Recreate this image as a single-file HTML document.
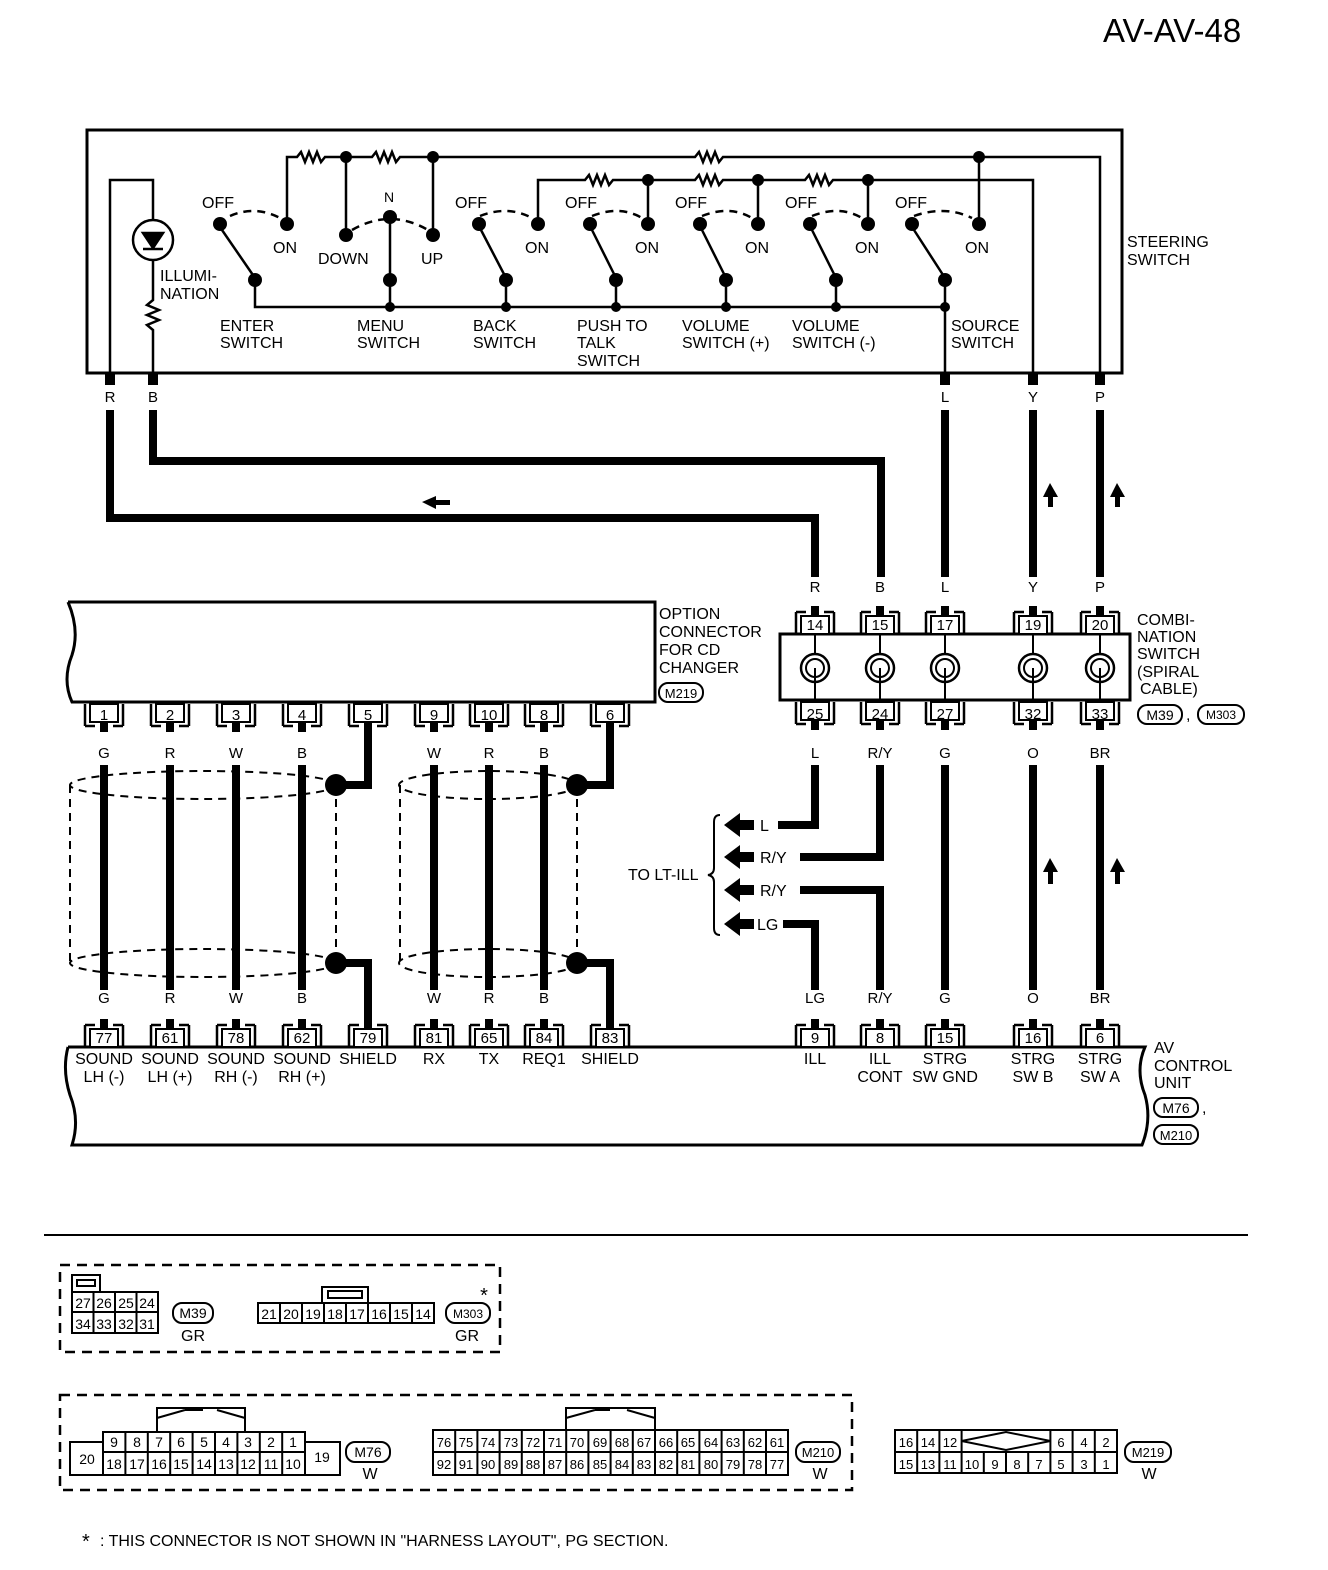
<!DOCTYPE html>
<html><head><meta charset="utf-8"><style>
html,body{margin:0;padding:0;background:#fff}
svg{display:block}
text{font-family:"Liberation Sans",sans-serif;fill:#000}
</style></head><body>
<svg width="1328" height="1570" viewBox="0 0 1328 1570" xmlns="http://www.w3.org/2000/svg">
<defs>
<g id="tt"><path d="M-19,2 V24 M19,2 V24 M-19,2 H-9 M9,2 H19" stroke="#000" stroke-width="2.5" fill="none"/><rect x="-14" y="6" width="28" height="18" fill="#fff" stroke="#000" stroke-width="2"/><rect x="-4" y="-4" width="8" height="10" fill="#000"/></g>
<g id="tb"><path d="M-19,0 V22 M19,0 V22 M-19,22 H-9 M9,22 H19" stroke="#000" stroke-width="2.5" fill="none"/><rect x="-14" y="0" width="28" height="18" fill="#fff" stroke="#000" stroke-width="2"/><rect x="-4" y="18" width="8" height="10" fill="#000"/></g>
<g id="sp"><circle r="14" fill="none" stroke="#000" stroke-width="2.5"/><circle r="9" fill="none" stroke="#000" stroke-width="2"/><path d="M0,-34 V-14 M0,0 V34" stroke="#000" stroke-width="2" fill="none"/></g>
</defs>
<g font-size="16">
<text x="1103" y="42" font-size="33">AV-AV-48</text>

<!-- steering switch box -->
<rect x="87" y="130" width="1035" height="243" fill="none" stroke="#000" stroke-width="3"/>
<g stroke="#000" stroke-width="2.5" fill="none">
<path d="M110,373 V180 H153 V220 M153,260 V300 l-6,5 12,5 -12,5 12,5 -12,5 6,5 V373"/>
<path d="M287,224 V157 H297 l4,-5 4,10 4,-10 4,10 4,-10 4,10 4,-5 H372 l4,-5 4,10 4,-10 4,10 4,-10 4,10 4,-5 H695 l4,-5 4,10 4,-10 4,10 4,-10 4,10 4,-5 H1100 V373"/>
<path d="M346,157 V235 M433,157 V235 M979,157 V224"/>
<path d="M538,224 V180 H585 l4,-5 4,10 4,-10 4,10 4,-10 4,10 4,-5 H695 l4,-5 4,10 4,-10 4,10 4,-10 4,10 4,-5 H805 l4,-5 4,10 4,-10 4,10 4,-10 4,10 4,-5 H1033 V373"/>
<path d="M648,180 V224 M758,180 V224 M868,180 V224"/>
<path d="M255,280 V307 H945 V373 M390,280 V307 M506,280 V307 M616,280 V307 M726,280 V307 M836,280 V307 M945,280 V307"/>
<path d="M255,278 L222,230 M390,278 V222 M506,278 L481,230 M616,278 L592,230 M726,278 L702,230 M836,278 L812,230 M945,278 L914,230"/>
<path d="M230,216 Q255,205 280,218 M480,216 Q508,205 532,218 M592,216 Q620,205 642,218 M702,216 Q730,205 752,218 M812,216 Q840,205 862,218 M914,216 Q945,205 972,218 M352,230 Q390,208 428,230" stroke-dasharray="8,6"/>
</g>
<circle cx="153" cy="240" r="20" fill="none" stroke="#000" stroke-width="2.5"/>
<path d="M143,233 H163 L153,248 Z M143,249 H163" fill="#000" stroke="#000" stroke-width="2.5"/>
<g fill="#000">
<circle cx="346" cy="157" r="6"/><circle cx="433" cy="157" r="6"/><circle cx="979" cy="157" r="6"/>
<circle cx="648" cy="180" r="6"/><circle cx="758" cy="180" r="6"/><circle cx="868" cy="180" r="6"/>
<circle cx="220" cy="224" r="7"/><circle cx="287" cy="224" r="7"/><circle cx="346" cy="235" r="7"/><circle cx="390" cy="217" r="7"/><circle cx="433" cy="235" r="7"/>
<circle cx="479" cy="224" r="7"/><circle cx="538" cy="224" r="7"/><circle cx="590" cy="224" r="7"/><circle cx="648" cy="224" r="7"/>
<circle cx="700" cy="224" r="7"/><circle cx="758" cy="224" r="7"/><circle cx="810" cy="224" r="7"/><circle cx="868" cy="224" r="7"/>
<circle cx="912" cy="224" r="7"/><circle cx="979" cy="224" r="7"/>
<circle cx="255" cy="280" r="7"/><circle cx="390" cy="280" r="7"/><circle cx="506" cy="280" r="7"/><circle cx="616" cy="280" r="7"/><circle cx="726" cy="280" r="7"/><circle cx="836" cy="280" r="7"/><circle cx="945" cy="280" r="7"/>
<circle cx="390" cy="307" r="5"/><circle cx="506" cy="307" r="5"/><circle cx="616" cy="307" r="5"/><circle cx="726" cy="307" r="5"/><circle cx="836" cy="307" r="5"/><circle cx="945" cy="307" r="5"/>
<rect x="105" y="373" width="10" height="12"/><rect x="148" y="373" width="10" height="12"/><rect x="940" y="373" width="10" height="12"/><rect x="1028" y="373" width="10" height="12"/><rect x="1095" y="373" width="10" height="12"/>
</g>
<text x="202" y="208">OFF</text><text x="273" y="253">ON</text><text x="318" y="264">DOWN</text><text x="384" y="202" font-size="14">N</text><text x="421" y="264">UP</text>
<text x="455" y="208">OFF</text><text x="525" y="253">ON</text><text x="565" y="208">OFF</text><text x="635" y="253">ON</text>
<text x="675" y="208">OFF</text><text x="745" y="253">ON</text><text x="785" y="208">OFF</text><text x="855" y="253">ON</text>
<text x="895" y="208">OFF</text><text x="965" y="253">ON</text>
<text x="160" y="281">ILLUMI-</text><text x="160" y="299">NATION</text>
<text x="220" y="331">ENTER</text><text x="220" y="348">SWITCH</text>
<text x="357" y="331">MENU</text><text x="357" y="348">SWITCH</text>
<text x="473" y="331">BACK</text><text x="473" y="348">SWITCH</text>
<text x="577" y="331">PUSH TO</text><text x="577" y="348">TALK</text><text x="577" y="366">SWITCH</text>
<text x="682" y="331">VOLUME</text><text x="682" y="348">SWITCH (+)</text>
<text x="792" y="331">VOLUME</text><text x="792" y="348">SWITCH (-)</text>
<text x="951" y="331">SOURCE</text><text x="951" y="348">SWITCH</text>
<text x="1127" y="247">STEERING</text><text x="1127" y="265">SWITCH</text>
<g font-size="15" text-anchor="middle"><text x="110" y="402">R</text><text x="153" y="402">B</text><text x="945" y="402">L</text><text x="1033" y="402">Y</text><text x="1100" y="402">P</text>
<text x="815" y="592">R</text><text x="880" y="592">B</text><text x="945" y="592">L</text><text x="1033" y="592">Y</text><text x="1100" y="592">P</text></g>

<!-- thick harness -->
<g stroke="#000" stroke-width="8" fill="none">
<path d="M110,410 V518 H815 V577"/><path d="M153,410 V461 H881 V577"/>
<path d="M945,410 V577 M1033,410 V577 M1100,410 V577"/>
</g>
<path d="M422,502 L436,496 V500 H450 V505 H436 V509 Z" fill="#000"/>
<path d="M1050,483 L1043,497 H1048 V507 H1053 V497 H1058 Z M1117,483 L1110,497 H1115 V507 H1120 V497 H1125 Z" fill="#000"/>

<!-- combination switch -->
<rect x="780" y="634" width="350" height="66" fill="#fff" stroke="#000" stroke-width="3"/>
<use href="#tt" x="815" y="610"/><use href="#tt" x="880" y="610"/><use href="#tt" x="945" y="610"/><use href="#tt" x="1033" y="610"/><use href="#tt" x="1100" y="610"/>
<use href="#tb" x="815" y="702"/><use href="#tb" x="880" y="702"/><use href="#tb" x="945" y="702"/><use href="#tb" x="1033" y="702"/><use href="#tb" x="1100" y="702"/>
<use href="#sp" x="815" y="668"/><use href="#sp" x="880" y="668"/><use href="#sp" x="945" y="668"/><use href="#sp" x="1033" y="668"/><use href="#sp" x="1100" y="668"/>
<g font-size="15" text-anchor="middle"><text x="815" y="630">14</text><text x="880" y="630">15</text><text x="945" y="630">17</text><text x="1033" y="630">19</text><text x="1100" y="630">20</text>
<text x="815" y="719">25</text><text x="880" y="719">24</text><text x="945" y="719">27</text><text x="1033" y="719">32</text><text x="1100" y="719">33</text>
<text x="815" y="758">L</text><text x="880" y="758">R/Y</text><text x="945" y="758">G</text><text x="1033" y="758">O</text><text x="1100" y="758">BR</text></g>
<text x="1137" y="625">COMBI-</text><text x="1137" y="642">NATION</text><text x="1137" y="659">SWITCH</text><text x="1137" y="677">(SPIRAL</text><text x="1140" y="694">CABLE)</text>
<rect x="1138" y="705" width="44" height="19" rx="9" fill="none" stroke="#000" stroke-width="2"/><text x="1160" y="720" font-size="14" text-anchor="middle">M39</text><text x="1186" y="720">,</text>
<rect x="1198" y="705" width="46" height="19" rx="9" fill="none" stroke="#000" stroke-width="2"/><text x="1221" y="719" font-size="12" text-anchor="middle">M303</text>

<!-- option connector -->
<path d="M68,602 H655 V702 H72 Q62,680 72,655 Q80,630 68,602" fill="#fff" stroke="#000" stroke-width="3"/>
<text x="659" y="619">OPTION</text><text x="659" y="637">CONNECTOR</text><text x="659" y="655">FOR CD</text><text x="659" y="673">CHANGER</text>
<rect x="659" y="683" width="44" height="19" rx="9" fill="none" stroke="#000" stroke-width="2"/><text x="681" y="698" font-size="13" text-anchor="middle">M219</text>
<g>
<use href="#tb" x="104" y="704"/><use href="#tb" x="170" y="704"/><use href="#tb" x="236" y="704"/><use href="#tb" x="302" y="704"/><use href="#tb" x="368" y="704"/><use href="#tb" x="434" y="704"/><use href="#tb" x="489" y="704"/><use href="#tb" x="544" y="704"/><use href="#tb" x="610" y="704"/>
</g>
<g font-size="15" text-anchor="middle"><text x="104" y="720">1</text><text x="170" y="720">2</text><text x="236" y="720">3</text><text x="302" y="720">4</text><text x="368" y="720">5</text><text x="434" y="720">9</text><text x="489" y="720">10</text><text x="544" y="720">8</text><text x="610" y="720">6</text>
<text x="104" y="758">G</text><text x="170" y="758">R</text><text x="236" y="758">W</text><text x="302" y="758">B</text><text x="434" y="758">W</text><text x="489" y="758">R</text><text x="544" y="758">B</text>
<text x="104" y="1003">G</text><text x="170" y="1003">R</text><text x="236" y="1003">W</text><text x="302" y="1003">B</text><text x="434" y="1003">W</text><text x="489" y="1003">R</text><text x="544" y="1003">B</text>
<text x="815" y="1003">LG</text><text x="880" y="1003">R/Y</text><text x="945" y="1003">G</text><text x="1033" y="1003">O</text><text x="1100" y="1003">BR</text></g>

<!-- shield cylinders -->
<g stroke="#000" stroke-width="2" fill="none" stroke-dasharray="8,6">
<ellipse cx="203" cy="785" rx="133" ry="14"/><ellipse cx="203" cy="963" rx="133" ry="14"/>
<path d="M70,785 V963 M336,785 V963"/>
<ellipse cx="488" cy="785" rx="89" ry="14"/><ellipse cx="488" cy="963" rx="89" ry="14"/>
<path d="M400,785 V963 M577,785 V963"/>
</g>
<g stroke="#000" stroke-width="8" fill="none">
<path d="M104,765 V990 M170,765 V990 M236,765 V990 M302,765 V990 M434,765 V990 M489,765 V990 M544,765 V990"/>
<path d="M368,732 V785 H336 M610,732 V785 H577 M336,963 H368 V1020 M577,963 H610 V1020"/>
<path d="M815,765 V825 H778 M880,765 V857 H800 M800,890 H880 V990 M783,924 H815 V990"/>
<path d="M945,765 V990 M1033,765 V990 M1100,765 V990"/>
</g>
<g fill="#000"><circle cx="336" cy="785" r="11"/><circle cx="577" cy="785" r="11"/><circle cx="336" cy="963" r="11"/><circle cx="577" cy="963" r="11"/>
<path d="M724,825 L740,813 V837 Z M738,820 H754 V830 H738 Z M724,857 L740,845 V869 Z M738,852 H754 V862 H738 Z M724,890 L740,878 V902 Z M738,885 H754 V895 H738 Z M724,924 L740,912 V936 Z M738,919 H754 V929 H738 Z"/>
<path d="M1050,858 L1043,872 H1048 V884 H1053 V872 H1058 Z M1117,858 L1110,872 H1115 V884 H1120 V872 H1125 Z"/></g>
<text x="760" y="831">L</text><text x="760" y="863">R/Y</text><text x="760" y="896">R/Y</text><text x="757" y="930">LG</text>
<text x="628" y="880">TO LT-ILL</text>
<path d="M720,815 Q714,815 714,822 V868 Q714,874 708,875 Q714,876 714,882 V928 Q714,935 720,935" stroke="#000" stroke-width="2" fill="none"/>

<!-- AV control unit -->
<path d="M68,1047 H1145 Q1135,1070 1145,1095 Q1152,1120 1142,1145 H72 Q80,1120 70,1095 Q62,1070 68,1047" fill="#fff" stroke="#000" stroke-width="3"/>
<use href="#tt" x="104" y="1023"/><use href="#tt" x="170" y="1023"/><use href="#tt" x="236" y="1023"/><use href="#tt" x="302" y="1023"/><use href="#tt" x="368" y="1023"/><use href="#tt" x="434" y="1023"/><use href="#tt" x="489" y="1023"/><use href="#tt" x="544" y="1023"/><use href="#tt" x="610" y="1023"/>
<use href="#tt" x="815" y="1023"/><use href="#tt" x="880" y="1023"/><use href="#tt" x="945" y="1023"/><use href="#tt" x="1033" y="1023"/><use href="#tt" x="1100" y="1023"/>
<g font-size="15" text-anchor="middle"><text x="104" y="1043">77</text><text x="170" y="1043">61</text><text x="236" y="1043">78</text><text x="302" y="1043">62</text><text x="368" y="1043">79</text><text x="434" y="1043">81</text><text x="489" y="1043">65</text><text x="544" y="1043">84</text><text x="610" y="1043">83</text>
<text x="815" y="1043">9</text><text x="880" y="1043">8</text><text x="945" y="1043">15</text><text x="1033" y="1043">16</text><text x="1100" y="1043">6</text></g>
<g text-anchor="middle"><text x="104" y="1064">SOUND</text><text x="104" y="1082">LH (-)</text><text x="170" y="1064">SOUND</text><text x="170" y="1082">LH (+)</text>
<text x="236" y="1064">SOUND</text><text x="236" y="1082">RH (-)</text><text x="302" y="1064">SOUND</text><text x="302" y="1082">RH (+)</text>
<text x="368" y="1064">SHIELD</text><text x="434" y="1064">RX</text><text x="489" y="1064">TX</text><text x="544" y="1064">REQ1</text><text x="610" y="1064">SHIELD</text>
<text x="815" y="1064">ILL</text><text x="880" y="1064">ILL</text><text x="880" y="1082">CONT</text><text x="945" y="1064">STRG</text><text x="945" y="1082">SW GND</text>
<text x="1033" y="1064">STRG</text><text x="1033" y="1082">SW B</text><text x="1100" y="1064">STRG</text><text x="1100" y="1082">SW A</text></g>
<text x="1154" y="1053">AV</text><text x="1154" y="1071">CONTROL</text><text x="1154" y="1088">UNIT</text>
<rect x="1154" y="1098" width="44" height="19" rx="9" fill="none" stroke="#000" stroke-width="2"/><text x="1176" y="1113" font-size="14" text-anchor="middle">M76</text><text x="1202" y="1113">,</text>
<rect x="1154" y="1125" width="44" height="19" rx="9" fill="none" stroke="#000" stroke-width="2"/><text x="1176" y="1140" font-size="13" text-anchor="middle">M210</text>

<line x1="44" y1="1235" x2="1248" y2="1235" stroke="#000" stroke-width="2"/>

<!-- connector faces -->
<g stroke="#000" stroke-width="2.5" fill="none" stroke-dasharray="10,7">
<rect x="60" y="1265" width="440" height="87"/><rect x="60" y="1395" width="792" height="95"/>
</g>
<g stroke="#000" stroke-width="2" fill="#fff">
<rect x="72" y="1275" width="28" height="17"/><rect x="77" y="1280" width="18" height="6"/>
<rect x="72" y="1292" width="86" height="41"/>
<path d="M72,1312 H158 M93.5,1292 V1333 M115,1292 V1333 M136.5,1292 V1333" fill="none"/>
<rect x="322" y="1287" width="46" height="16"/><rect x="328" y="1291" width="34" height="7"/>
<rect x="258" y="1303" width="176" height="20"/>
<path d="M280,1303 V1323 M302,1303 V1323 M324,1303 V1323 M346,1303 V1323 M368,1303 V1323 M390,1303 V1323 M412,1303 V1323" fill="none"/>
<path d="M157,1432 V1408 H245 V1432 M157,1418 L185,1410 M245,1418 L217,1410 M185,1410 H203" fill="none"/>
<rect x="70" y="1442" width="33" height="33"/><rect x="305" y="1442" width="35" height="33"/>
<rect x="103" y="1432" width="202" height="43"/>
<path d="M103,1452 H305 M125.4,1432 V1475 M147.8,1432 V1475 M170.2,1432 V1475 M192.6,1432 V1475 M215,1432 V1475 M237.4,1432 V1475 M259.8,1432 V1475 M282.2,1432 V1475" fill="none"/>
<path d="M566,1430 V1408 H655 V1430 M566,1418 L595,1410 M655,1418 L627,1410 M595,1410 H610" fill="none"/>
<rect x="433" y="1430" width="355" height="45"/>
<path d="M433,1452 H788 M455.2,1430 V1475 M477.4,1430 V1475 M499.6,1430 V1475 M521.8,1430 V1475 M544,1430 V1475 M566.2,1430 V1475 M588.4,1430 V1475 M610.6,1430 V1475 M632.8,1430 V1475 M655,1430 V1475 M677.2,1430 V1475 M699.4,1430 V1475 M721.6,1430 V1475 M743.8,1430 V1475 M766,1430 V1475" fill="none"/>
<rect x="895" y="1430" width="222" height="43"/>
<path d="M895,1452 H1117 M917.2,1430 V1473 M939.4,1430 V1473 M961.6,1430 V1452 M1050.4,1430 V1452 M1072.6,1430 V1473 M1094.8,1430 V1473 M983.8,1452 V1473 M1006,1452 V1473 M1028.2,1452 V1473 M1050.4,1452 V1473 M961.6,1452 V1473 M961.6,1441 L1006,1432 L1050.4,1441 L1006,1450 Z" fill="none"/>
</g>
<g font-size="14" text-anchor="middle">
<text x="83" y="1308">27</text><text x="104" y="1308">26</text><text x="126" y="1308">25</text><text x="147" y="1308">24</text>
<text x="83" y="1329">34</text><text x="104" y="1329">33</text><text x="126" y="1329">32</text><text x="147" y="1329">31</text>
<text x="269" y="1319">21</text><text x="291" y="1319">20</text><text x="313" y="1319">19</text><text x="335" y="1319">18</text><text x="357" y="1319">17</text><text x="379" y="1319">16</text><text x="401" y="1319">15</text><text x="423" y="1319">14</text>
<text x="87" y="1464">20</text><text x="322" y="1462">19</text>
<text x="114" y="1447">9</text><text x="137" y="1447">8</text><text x="159" y="1447">7</text><text x="181" y="1447">6</text><text x="204" y="1447">5</text><text x="226" y="1447">4</text><text x="248" y="1447">3</text><text x="271" y="1447">2</text><text x="293" y="1447">1</text>
<text x="114" y="1469">18</text><text x="137" y="1469">17</text><text x="159" y="1469">16</text><text x="181" y="1469">15</text><text x="204" y="1469">14</text><text x="226" y="1469">13</text><text x="248" y="1469">12</text><text x="271" y="1469">11</text><text x="293" y="1469">10</text>
<g font-size="13"><text x="444" y="1447">76</text><text x="466" y="1447">75</text><text x="488" y="1447">74</text><text x="511" y="1447">73</text><text x="533" y="1447">72</text><text x="555" y="1447">71</text><text x="577" y="1447">70</text><text x="600" y="1447">69</text><text x="622" y="1447">68</text><text x="644" y="1447">67</text><text x="666" y="1447">66</text><text x="688" y="1447">65</text><text x="711" y="1447">64</text><text x="733" y="1447">63</text><text x="755" y="1447">62</text><text x="777" y="1447">61</text>
<text x="444" y="1469">92</text><text x="466" y="1469">91</text><text x="488" y="1469">90</text><text x="511" y="1469">89</text><text x="533" y="1469">88</text><text x="555" y="1469">87</text><text x="577" y="1469">86</text><text x="600" y="1469">85</text><text x="622" y="1469">84</text><text x="644" y="1469">83</text><text x="666" y="1469">82</text><text x="688" y="1469">81</text><text x="711" y="1469">80</text><text x="733" y="1469">79</text><text x="755" y="1469">78</text><text x="777" y="1469">77</text>
<text x="906" y="1447">16</text><text x="928" y="1447">14</text><text x="950" y="1447">12</text><text x="1061" y="1447">6</text><text x="1084" y="1447">4</text><text x="1106" y="1447">2</text>
<text x="906" y="1469">15</text><text x="928" y="1469">13</text><text x="950" y="1469">11</text><text x="972" y="1469">10</text><text x="995" y="1469">9</text><text x="1017" y="1469">8</text><text x="1039" y="1469">7</text><text x="1061" y="1469">5</text><text x="1084" y="1469">3</text><text x="1106" y="1469">1</text></g>
</g>
<g stroke="#000" stroke-width="2" fill="none">
<rect x="173" y="1303" width="40" height="20" rx="9"/><rect x="446" y="1303" width="44" height="20" rx="9"/>
<rect x="346" y="1442" width="44" height="20" rx="9"/><rect x="796" y="1442" width="44" height="20" rx="9"/><rect x="1125" y="1442" width="46" height="20" rx="9"/>
</g>
<g text-anchor="middle"><text x="193" y="1318" font-size="14">M39</text><text x="468" y="1318" font-size="12">M303</text><text x="193" y="1341">GR</text><text x="467" y="1341">GR</text><text x="484" y="1302" font-size="20">*</text>
<text x="368" y="1457" font-size="14">M76</text><text x="818" y="1457" font-size="13">M210</text><text x="1148" y="1457" font-size="13">M219</text>
<text x="370" y="1479">W</text><text x="820" y="1479">W</text><text x="1149" y="1479">W</text></g>
<text x="82" y="1548" font-size="20">*</text><text x="100" y="1546">: THIS CONNECTOR IS NOT SHOWN IN "HARNESS LAYOUT", PG SECTION.</text>
</g>
</svg>
</body></html>
